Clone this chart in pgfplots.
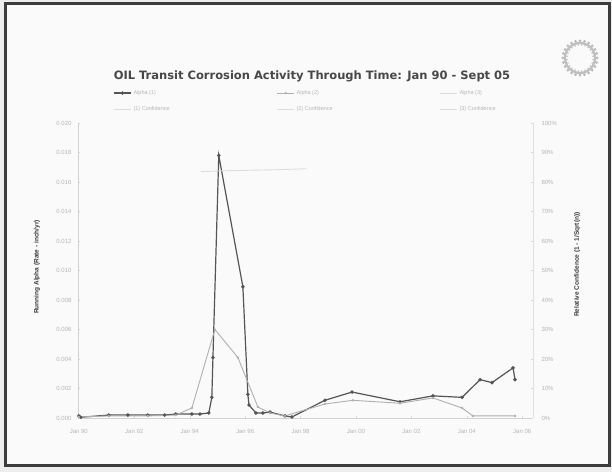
\documentclass[border=0pt]{standalone}
\usepackage{pgfplots}
\pgfplotsset{compat=1.18}
\usepackage{fontspec}
\setmainfont{Liberation Sans}
\newfontfamily\titlefont{DejaVu Sans}

\definecolor{frame}{HTML}{3C3C3C}
\definecolor{paper}{HTML}{FAFAFA}
\definecolor{seriesA}{HTML}{555555}
\definecolor{seriesB}{HTML}{B0B0B0}
\definecolor{conf}{HTML}{DDDDDD}
\definecolor{ticktext}{HTML}{B5B5B5}
\definecolor{labeltext}{HTML}{3A3A3A}

% running alpha rates, line 1
\pgfplotstableread{
year    rate
1990.00 0.00014
1990.07 0.00005
1991.08 0.00020
1991.77 0.00020
1992.49 0.00020
1993.10 0.00020
1993.50 0.00027
1994.08 0.00027
1994.37 0.00027
1994.69 0.00034
1994.80 0.00140
1994.84 0.00410
1995.05 0.01780
1995.92 0.00890
1996.10 0.00160
1996.14 0.00088
1996.39 0.00034
1996.64 0.00034
1996.90 0.00040
1997.44 0.00014
1997.69 0.00007
1998.88 0.00120
1999.86 0.00176
2001.59 0.00110
2002.78 0.00150
2003.83 0.00140
2004.48 0.00260
2004.91 0.00240
2005.67 0.00340
2005.74 0.00260
}\lineone

% running alpha rates, line 2
\pgfplotstableread{
year    rate
1990.00 0.00007
1991.08 0.00014
1992.49 0.00014
1993.50 0.00020
1994.08 0.00068
1994.91 0.00600
1995.74 0.00410
1996.46 0.00075
1996.90 0.00034
1997.44 0.00014
1998.88 0.00095
1999.89 0.00120
2001.59 0.00100
2002.78 0.00136
2003.83 0.00068
2004.22 0.00014
2005.74 0.00014
}\linetwo

\begin{document}
\begin{tikzpicture}[x=1pt,y=1pt]
\useasboundingbox (0,0) rectangle (612,472);
\fill[gray!14] (0,0) rectangle (612,472);
\fill[paper] (5,7) rectangle (609,468);
\draw[frame, line width=3pt] (5,7) rectangle (609,468);

% company seal, top right: a ring of small beads
\begin{scope}[shift={(580,414)}]
  \draw[gray!50, line width=2.2pt] (0,0) circle (15);
  \foreach \a in {0,15,...,345} \fill[gray!55] (\a:17.2) circle (1.5);
  \foreach \a in {7.5,22.5,...,352.5} \fill[gray!45] (\a:13.2) circle (1.0);
\end{scope}

\node[font=\titlefont\bfseries\fontsize{11.5}{13}\selectfont, text=black!72]
  at (312,396) {OIL Transit Corrosion Activity Through Time: Jan 90 - Sept 05};

\begin{axis}[
  at={(78pt,54pt)}, anchor=south west, scale only axis,
  width=455pt, height=295pt,
  xmin=1989.97, xmax=2006.39, ymin=0, ymax=0.020,
  axis x line*=bottom, axis y line*=left,
  axis line style={gray!35, line width=0.6pt},
  xtick={1990,1992,1994,1996,1998,2000,2002,2004,2006},
  xticklabels={Jan 90,Jan 92,Jan 94,Jan 96,Jan 98,Jan 00,Jan 02,Jan 04,Jan 06},
  ytick={0,0.002,0.004,0.006,0.008,0.010,0.012,0.014,0.016,0.018,0.020},
  scaled y ticks=false,
  yticklabel style={/pgf/number format/fixed, /pgf/number format/fixed zerofill,
    /pgf/number format/precision=3, xshift=-3pt},
  /pgf/number format/assume math mode=true,
  tick label style={font=\fontsize{6}{7}\selectfont, text=ticktext},
  xticklabel style={yshift=-8pt},
  major tick length=2pt, tick style={gray!30},
  ylabel={Running Alpha (Rate - inch/yr)},
  ylabel style={at={(axis description cs:-0.09,0.512)}, anchor=center,
    font=\bfseries\fontsize{6.5}{7}\selectfont, text=labeltext},
  clip=false,
  legend columns=3,
  legend cell align=left,
  legend style={at={(axis description cs:0.50,1.125)}, anchor=north,
    draw=none, fill=none, font=\fontsize{5.5}{6}\selectfont, text=ticktext,
    row sep=7pt, /tikz/every even column/.append style={column sep=105pt}},
]
\addplot[seriesA, line width=1.2pt, mark=*, mark size=1.1pt,
  mark options={fill=seriesA, draw=seriesA}] table[x=year, y=rate] {\lineone};
\addlegendentry{Alpha (1)}
\addplot[seriesB, line width=0.9pt, mark=*, mark size=0.7pt,
  mark options={fill=seriesB, draw=seriesB}] table[x=year, y=rate] {\linetwo};
\addlegendentry{Alpha (2)}
\addlegendimage{conf, line width=0.8pt}
\addlegendentry{Alpha (3)}
\addlegendimage{conf, line width=0.8pt}
\addlegendentry{(1) Confidence}
\addlegendimage{conf, line width=0.8pt}
\addlegendentry{(2) Confidence}
\addlegendimage{conf, line width=0.8pt}
\addlegendentry{(3) Confidence}
\end{axis}

\begin{axis}[
  at={(78pt,54pt)}, anchor=south west, scale only axis,
  width=455pt, height=295pt,
  xmin=1989.97, xmax=2006.39, ymin=0, ymax=1,
  axis x line=none, axis y line*=right,
  axis line style={gray!25, line width=0.6pt},
  ytick={0,0.1,0.2,0.3,0.4,0.5,0.6,0.7,0.8,0.9,1},
  yticklabels={0\%,10\%,20\%,30\%,40\%,50\%,60\%,70\%,80\%,90\%,100\%},
  tick label style={font=\fontsize{6}{7}\selectfont, text=ticktext},
  yticklabel style={xshift=5pt},
  major tick length=2pt, tick style={gray!30},
  ylabel={Relative Confidence (1 - 1/Sqrt(n))},
  ylabel style={at={(axis description cs:1.097,0.52)}, anchor=center,
    font=\bfseries\fontsize{6.5}{7}\selectfont, text=labeltext},
  clip=false,
]
\addplot[conf, line width=0.9pt] coordinates {
  (1994.40,0.835) (1995.20,0.838) (1997.30,0.842) (1998.20,0.845)};
\end{axis}
\end{tikzpicture}
\end{document}
